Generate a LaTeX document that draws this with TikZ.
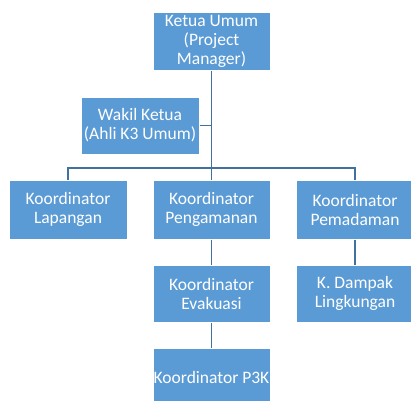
\documentclass[tikz,border=0pt]{standalone}
\usepackage{fontspec}
\setmainfont{Carlito}
\definecolor{boxblue}{RGB}{91,155,213}
\definecolor{lineblue}{RGB}{65,113,156}
\begin{document}
\begin{tikzpicture}[x=1pt,y=-1pt,
  orgbox/.style={rectangle, fill=boxblue, draw=white, line width=1pt, text=white,
    minimum width=117pt, minimum height=58pt, align=center,
    font=\fontsize{17.5}{19}\selectfont, inner sep=0pt},
  conn/.style={draw=lineblue, line width=1.3pt}]
\useasboundingbox (0,0) rectangle (411,400);
\node[orgbox] (top) at (211.5,41) {Ketua Umum\\(Project\\Manager)};
\node[orgbox, minimum width=118pt, minimum height=57pt] (wakil) at (140,125.5) {Wakil Ketua\\(Ahli K3 Umum)};
\node[orgbox, minimum width=118pt, minimum height=59pt] (lap) at (68,209.5) {Koordinator\\Lapangan};
\node[orgbox, minimum height=59pt] (peng) at (211.5,209.5) {Koordinator\\Pengamanan};
\node[orgbox, minimum height=59pt] (pem) at (355,209.5) {Koordinator\\Pemadaman};
\node[orgbox, minimum height=57pt] (evak) at (211.5,293.5) {Koordinator\\Evakuasi};
\node[orgbox, minimum height=57pt] (damp) at (355,293.5) {K. Dampak\\Lingkungan};
\node[orgbox] (p3k) at (211.5,377) {Koordinator P3K};
\coordinate (bus) at (211.5,168);
\coordinate (wj) at (211.5,125.5);
\draw[conn] (top.south) -- (bus);
\draw[conn] (wj) -- (wakil.east);
\draw[conn] (lap.north) |- (bus) -| (pem.north);
\draw[conn] (bus) -- (peng.north);
\draw[conn] (peng.south) -- (evak.north);
\draw[conn] (evak.south) -- (p3k.north);
\draw[conn] (pem.south) -- (damp.north);
\end{tikzpicture}
\end{document}
